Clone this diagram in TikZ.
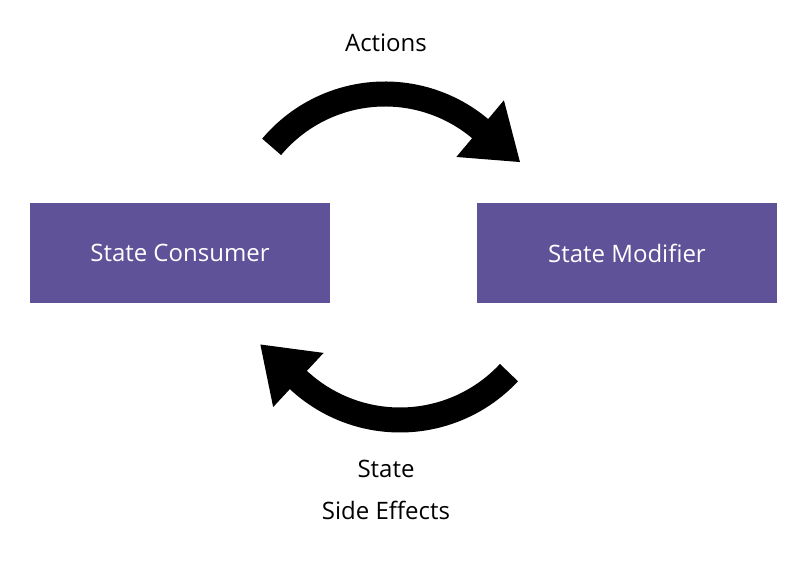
\documentclass[tikz,border=0pt]{standalone}
\usepackage{fontspec}
\setmainfont{Open Sans}
\usetikzlibrary{calc}
\definecolor{boxpurple}{RGB}{95,82,152}
\tikzset{
  statebox/.style={fill=boxpurple, draw=none, minimum width=300pt, minimum height=100pt,
    text=white, font=\fontsize{24}{28}\selectfont, inner sep=0pt},
  lbl/.style={font=\fontsize{24}{28}\selectfont, text=black, anchor=base, inner sep=0pt},
  shaft/.style={line width=25pt, draw=black},
  headfill/.style={fill=black, draw=none}
}
\begin{document}
\begin{tikzpicture}[x=1pt,y=1pt]
\useasboundingbox (0,0) rectangle (809,575);
\fill[white] (0,0) rectangle (809,575);

\node[statebox] (consumer) at (180,322) {State Consumer};
\node[statebox] (modifier) at (627,322) {State Modifier};

\node[lbl] (actions) at (386,523.3) {Actions};
\node[lbl] (state) at (386,97.5) {State};
\node[lbl] (side) at (386,55) {Side Effects};

% top arrow (Actions)
\coordinate (c1) at (385,333);
\coordinate (b1) at ($(c1)+(50:148)$);
\draw[shaft] ($(c1)+(140:148)$) arc[start angle=140, end angle=49, radius=148];
\fill[headfill] ($(b1)+(50:37)$) -- ($(b1)+(-40:52)$) -- ($(b1)+(230:37)$) -- cycle;

% bottom arrow (State / Side Effects)
\coordinate (c2) at (400,304);
\coordinate (b2) at ($(c2)+(-133:149)$);
\draw[shaft] ($(c2)+(-43:149)$) arc[start angle=-43, end angle=-134, radius=149];
\fill[headfill] ($(b2)+(-133:37)$) -- ($(b2)+(137:52)$) -- ($(b2)+(47:37)$) -- cycle;
\end{tikzpicture}
\end{document}
